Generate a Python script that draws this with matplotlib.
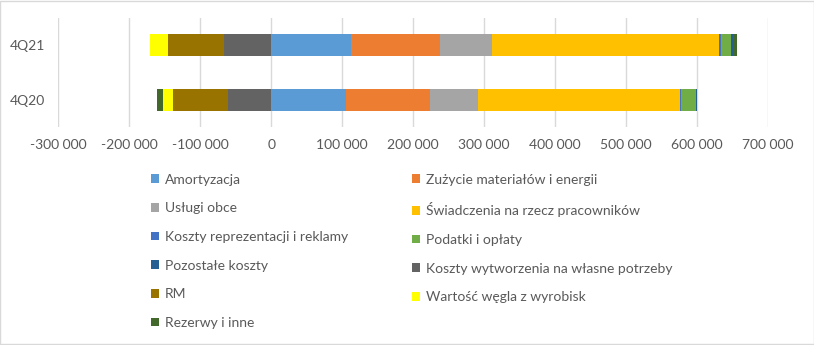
import matplotlib.pyplot as plt
from matplotlib.patches import Patch
from matplotlib.ticker import FuncFormatter

plt.rcParams['font.family'] = ['Lato', 'DejaVu Sans']

quarters = ['4Q20', '4Q21']
series_names = [
    'Amortyzacja', 'Zużycie materiałów i energii', 'Usługi obce',
    'Świadczenia na rzecz pracowników', 'Koszty reprezentacji i reklamy',
    'Podatki i opłaty', 'Pozostałe koszty', 'Koszty wytworzenia na własne potrzeby',
    'RM', 'Wartość węgla z wyrobisk', 'Rezerwy i inne',
]
# values per series: [4Q20, 4Q21]
amortyzacja = [105500, 113000]
zuzycie = [118500, 125500]
uslugi = [67700, 73000]
swiadczenia = [285000, 320000]
reprezentacja = [500, 2800]
podatki = [21000, 14000]
pozostale = [1500, 2000]
wytworzenie = [-61000, -67000]
rm = [-76700, -78000]
wegiel = [-14600, -26000]
rezerwy = [-8500, 6500]
series_values = [amortyzacja, zuzycie, uslugi, swiadczenia, reprezentacja,
                 podatki, pozostale, wytworzenie, rm, wegiel, rezerwy]
colors = ['#5B9BD5', '#ED7D31', '#A5A5A5', '#FFC000', '#4472C4', '#70AD47',
          '#255E91', '#636363', '#997300', '#FFFF00', '#43682B']
text_color = '#595959'

fig = plt.figure(figsize=(8.14, 3.45), dpi=100)
ax = fig.add_axes([0.0716, 0.632, 0.8719, 0.3158])

pos_base = [0.0] * len(quarters)
neg_base = [0.0] * len(quarters)
ypos = range(len(quarters))
for name, vals, col in zip(series_names, series_values, colors):
    lefts = []
    for i, v in enumerate(vals):
        if v >= 0:
            lefts.append(pos_base[i])
            pos_base[i] += v
        else:
            lefts.append(neg_base[i])
            neg_base[i] += v
    ax.barh(ypos, vals, left=lefts, height=0.4, color=col, label=name, zorder=3)

ax.set_xlim(-300000, 700000)
ax.set_ylim(-0.5, 1.5)
ax.set_xticks(range(-300000, 700001, 100000))
ax.xaxis.set_major_formatter(FuncFormatter(lambda v, p: f'{int(v):,}'.replace(',', ' ')))
ax.set_yticks(list(ypos))
ax.set_yticklabels(quarters)
ax.grid(axis='x', color='#D9D9D9', linewidth=1, zorder=0)
for s in ax.spines.values():
    s.set_visible(False)
ax.tick_params(length=0, colors=text_color, labelsize=10)
ax.tick_params(axis='x', pad=9)
ax.tick_params(axis='y', pad=9.5)

handles = [Patch(facecolor=c) for c in colors]
order = [0, 2, 4, 6, 8, 10, 1, 3, 5, 7, 9]
leg = fig.legend([handles[i] for i in order], [series_names[i] for i in order],
                 loc='upper left', bbox_to_anchor=(0.1785, 0.513), ncol=2,
                 frameon=False, fontsize=10, labelcolor=text_color,
                 handlelength=0.6, handleheight=0.6, handletextpad=0.4,
                 labelspacing=1.2, columnspacing=4.6, borderaxespad=0)

fig.patches.append(plt.Rectangle((0.0006, 0.0015), 0.9988, 0.997, transform=fig.transFigure,
                                 fill=False, edgecolor='#D9D9D9', linewidth=1))
fig.savefig('out.png', dpi=100)
